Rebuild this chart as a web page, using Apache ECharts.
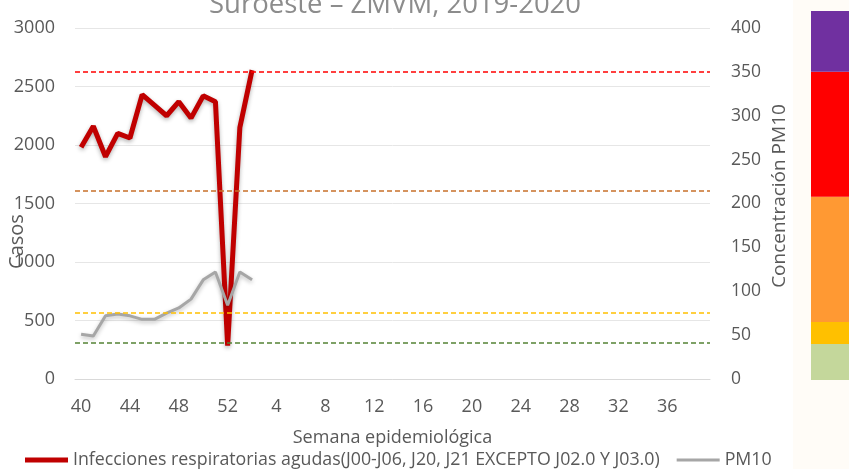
<!DOCTYPE html>
<html>
<head>
<meta charset="utf-8">
<script src="https://cdn.jsdelivr.net/npm/echarts@6/dist/echarts.min.js"></script>
<style>
  html, body { margin: 0; padding: 0; background: #ffffff; }
  #chart { width: 849px; height: 469px; }
</style>
</head>
<body>
<div id="chart"></div>
<script>
// Epidemiological weeks: 40-52 of 2019, then 1-39 of 2020
const weeks = ['40','41','42','43','44','45','46','47','48','49','50','51','52',
  '1','2','3','4','5','6','7','8','9','10','11','12','13','14','15','16','17','18','19','20',
  '21','22','23','24','25','26','27','28','29','30','31','32','33','34','35','36','37','38','39'];

// Weekly cases of acute respiratory infections (left axis)
const iraCases = [1980, 2160, 1900, 2100, 2060, 2430, 2340, 2250, 2370, 2230, 2420, 2370, 285, 2150, 2640];

// Weekly PM10 concentration (right axis)
const pm10 = [51, 49, 72, 74, 72, 68, 68, 75, 81, 91, 113, 122, 84, 122, 113];

// PM10 reference levels drawn as dashed lines (right axis)
const pm10Levels = [350, 214, 76, 41];
const pm10LevelColors = ['#FF0000', '#C8702A', '#FFC000', '#548235'];

// Colour scale bar: upper limit of each band
const bandLimits = [41, 66, 208, 350, 419];
const bandColors = ['#C4D79B', '#FFC000', '#FF9933', '#FF0000', '#7030A0'];

const casesTicks = { min: 0, max: 3000, interval: 500 };
const pm10Ticks = { min: 0, max: 400, interval: 50 };

const iraName = 'Infecciones respiratorias agudas(J00-J06, J20, J21 EXCEPTO J02.0 Y J03.0)';

const bandSeries = bandLimits.map((lim, i) => ({
  type: 'bar',
  xAxisIndex: 2,
  yAxisIndex: 3,
  stack: 'bands',
  barWidth: '100%',
  silent: true,
  data: [lim - (i ? bandLimits[i - 1] : 0)],
  itemStyle: { color: bandColors[i] }
}));

const labelFont = { fontFamily: 'Open Sans', color: '#595959' };
const plain = v => String(v);

const chart = echarts.init(document.getElementById('chart'), null, { renderer: 'canvas' });
chart.setOption({
  animation: false,
  backgroundColor: '#ffffff',
  graphic: [{
    type: 'rect', z: -10, silent: true,
    shape: { x: 793, y: 0, width: 56, height: 469 },
    style: { fill: '#FFFCF7' }
  }],
  title: {
    text: 'Suroeste \u2013 ZMVM, 2019-2020',
    left: 204,
    top: -14,
    textStyle: { fontFamily: 'Open Sans', fontWeight: 'normal', fontSize: 27.5, color: '#8C8C8C' }
  },
  legend: {
    top: 451,
    left: 25,
    padding: 0,
    itemWidth: 43,
    itemHeight: 10,
    itemGap: 17,
    textStyle: { fontFamily: 'Open Sans', fontSize: 17.8, color: '#595959' },
    data: [
      { name: iraName, icon: 'path://M0,0 M43,10 M0,2.5 H43 V7.5 H0 Z', itemStyle: { color: '#C00000' } },
      { name: 'PM10', icon: 'path://M0,0 M43,10 M0,3.5 H43 V6.5 H0 Z', itemStyle: { color: '#A6A6A6' } }
    ]
  },
  grid: [
    { left: 75, right: 139, top: 28, bottom: 90, outerBoundsMode: 'none' },
    { left: 75, right: 139, top: 28, bottom: 90, outerBoundsMode: 'none' },
    { left: 811, right: 0, top: 11, bottom: 89, outerBoundsMode: 'none' }
  ],
  xAxis: [
    {
      type: 'category', gridIndex: 0, data: weeks, boundaryGap: true,
      name: 'Semana epidemiológica', nameLocation: 'middle', nameGap: 50, nameMoveOverlap: false,
      nameTextStyle: { ...labelFont, fontSize: 18 },
      axisLine: { lineStyle: { color: '#D9D9D9' } },
      axisTick: { show: false },
      axisLabel: { ...labelFont, fontSize: 18, interval: 3, margin: 19 }
    },
    { type: 'category', gridIndex: 1, data: weeks, show: false },
    { type: 'category', gridIndex: 2, data: ['escala'], show: false }
  ],
  yAxis: [
    {
      type: 'value', gridIndex: 0, position: 'left', ...casesTicks,
      name: 'Casos', nameLocation: 'middle', nameGap: 48, nameMoveOverlap: false,
      nameTextStyle: { ...labelFont, fontSize: 20, padding: [0, 76, 0, 0] },
      axisLine: { show: false }, axisTick: { show: false },
      axisLabel: { ...labelFont, fontSize: 18, margin: 20, formatter: plain },
      splitLine: { lineStyle: { color: '#E6E6E6' } }
    },
    {
      type: 'value', gridIndex: 0, position: 'right', ...pm10Ticks,
      name: 'Concentración PM10', nameLocation: 'middle', nameGap: 60, nameMoveOverlap: false,
      nameTextStyle: { ...labelFont, fontSize: 19, padding: [0, 0, 0, 15] },
      axisLine: { show: false }, axisTick: { show: false },
      axisLabel: { ...labelFont, fontSize: 17.5, margin: 21, formatter: plain },
      splitLine: { show: false }
    },
    { type: 'value', gridIndex: 1, ...pm10Ticks, show: false, splitLine: { show: false } },
    { type: 'value', gridIndex: 2, min: 0, max: bandLimits[bandLimits.length - 1], show: false, splitLine: { show: false } }
  ],
  series: [
    {
      name: iraName,
      type: 'line', xAxisIndex: 0, yAxisIndex: 0,
      data: iraCases, symbol: 'none', z: 3,
      color: '#C00000',
      lineStyle: { width: 5, color: '#C00000', shadowColor: 'rgba(0,0,0,0.3)', shadowBlur: 4, shadowOffsetY: 2 }
    },
    {
      name: 'PM10',
      type: 'line', xAxisIndex: 0, yAxisIndex: 1,
      data: pm10, symbol: 'none', z: 4,
      color: '#A6A6A6',
      lineStyle: { width: 3, color: '#A6A6A6', shadowColor: 'rgba(0,0,0,0.25)', shadowBlur: 4, shadowOffsetY: 2 }
    },
    {
      type: 'line', xAxisIndex: 1, yAxisIndex: 2, data: [], silent: true, z: 2,
      markLine: {
        silent: true, symbol: 'none', label: { show: false },
        data: pm10Levels.map((v, i) => ({
          yAxis: v,
          lineStyle: { color: pm10LevelColors[i], type: [5, 3], width: 1.5 }
        }))
      }
    },
    ...bandSeries
  ]
});
</script>
</body>
</html>
